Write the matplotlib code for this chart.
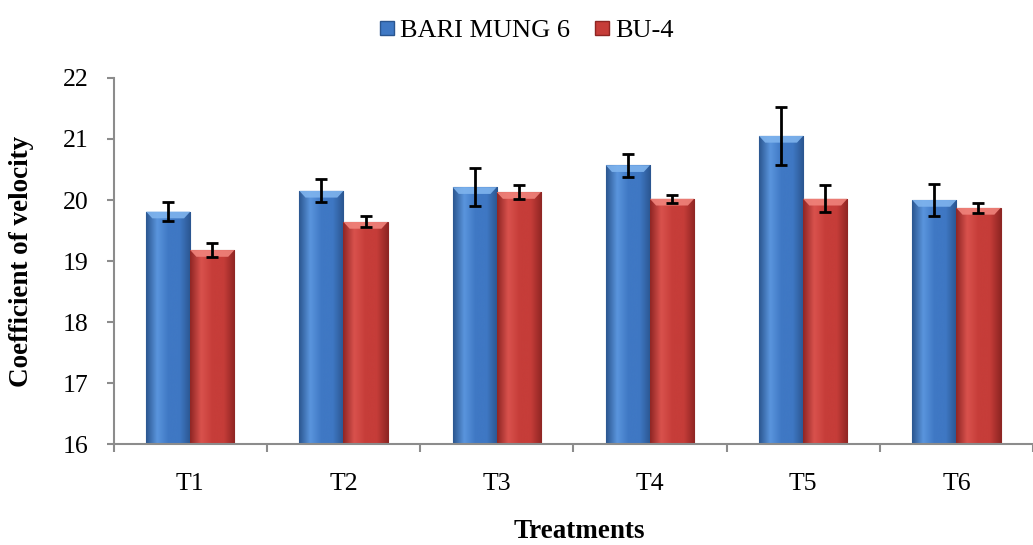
import matplotlib
matplotlib.use("Agg")
import matplotlib.pyplot as plt
import numpy as np
from matplotlib.colors import LinearSegmentedColormap
from matplotlib.patches import Polygon
from matplotlib.lines import Line2D

categories = ["T1", "T2", "T3", "T4", "T5", "T6"]
bari_mung6 = [19.81, 20.15, 20.21, 20.57, 21.05, 20.00]
bari_err = [0.15, 0.19, 0.31, 0.19, 0.48, 0.27]
bu4 = [19.18, 19.64, 20.13, 20.02, 20.02, 19.87]
bu4_err = [0.11, 0.09, 0.12, 0.07, 0.22, 0.08]
series_names = ["BARI MUNG 6", "BU-4"]

plt.rcParams['font.family'] = ['Liberation Serif', 'DejaVu Serif']

fig = plt.figure(figsize=(10.33, 5.45), dpi=100)
ax = fig.add_axes([0.110, 0.185, 0.89, 0.672])

x = np.arange(len(categories))
w = 0.288

styles = [
    dict(base="#3f78c4", dark="#2a558f", light="#5a95dd", bevel="#7fb4ee"),
    dict(base="#c63d39", dark="#8e2523", light="#d9524d", bevel="#f0837b"),
]

for i, (vals, errs) in enumerate([(bari_mung6, bari_err), (bu4, bu4_err)]):
    st = styles[i]
    off = (i - 0.5) * w
    bars = ax.bar(x + off, np.array(vals) - 16, w, bottom=16, color=st["base"],
                  edgecolor=st["dark"], linewidth=0.8, zorder=2)
    cmap = LinearSegmentedColormap.from_list("g%d" % i, [st["dark"], st["light"], st["base"], st["base"], st["dark"]])
    grad = np.linspace(0, 1, 256).reshape(1, -1)
    for b in bars:
        x0, y0 = b.get_x(), b.get_y()
        bw, bh = b.get_width(), b.get_height()
        im = ax.imshow(grad, cmap=cmap, extent=[x0, x0 + bw, y0, y0 + bh],
                       aspect='auto', zorder=2.1, interpolation='bicubic')
        im.set_clip_path(b)
        dh = 0.11
        inset = bw * 0.14
        top = y0 + bh
        poly = Polygon([[x0, top], [x0 + bw, top], [x0 + bw - inset, top - dh], [x0 + inset, top - dh]],
                       closed=True, facecolor=st["bevel"], edgecolor='none', zorder=2.2, alpha=0.9)
        ax.add_patch(poly)
    ax.errorbar(x + off, vals, yerr=errs, fmt='none', ecolor='black', elinewidth=2.0,
                capsize=4.5, capthick=2.0, zorder=3)

ax.set_xlim(-0.5, 5.43)
ax.set_ylim(16, 22)
ax.set_yticks(np.arange(16, 23, 1))
ax.set_xticks(x)
ax.set_xticklabels(categories)
ax.set_xticks(np.arange(-0.5, 6, 1), minor=True)
ax.tick_params(axis='x', which='major', length=0, pad=21, labelsize=18.5)
ax.tick_params(axis='x', which='minor', length=6, color='#8c8c8c', width=1.5, direction='out')
ax.tick_params(axis='y', length=5, color='#8c8c8c', width=1.5, labelsize=18.5, pad=13, direction='out')

for s in ['top', 'right']:
    ax.spines[s].set_visible(False)
for s in ['left', 'bottom']:
    ax.spines[s].set_color('#8c8c8c')
    ax.spines[s].set_linewidth(1.5)

fig.text(22 / 1033, 0.521, "Coefficient of velocity", fontsize=19.5, fontweight='bold',
         rotation=90, ha='center', va='center')
fig.text(0.561, 1 - 532 / 545, "Treatments", fontsize=19.5, fontweight='bold',
         ha='center', va='center')

handles = [Line2D([], [], marker='s', linestyle='none', markersize=10,
                  markerfacecolor=styles[i]["base"], markeredgecolor=styles[i]["dark"])
           for i in range(2)]
fig.legend(handles, series_names, loc='upper center', bbox_to_anchor=(0.507, 1.01),
           ncol=2, frameon=False, fontsize=19, handletextpad=0.0, columnspacing=0.7,
           handlelength=1.0)

fig.savefig("out.png", dpi=100)
